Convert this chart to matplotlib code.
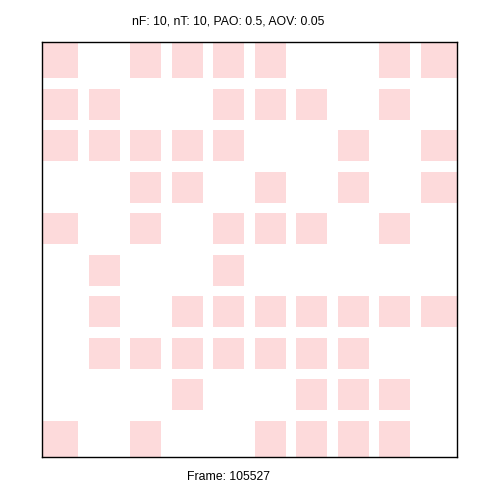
import matplotlib
matplotlib.use("Agg")
import matplotlib.pyplot as plt
from matplotlib.patches import Rectangle

# occupied cells, one list of column indices per row (row 0 = top)
n_rows = 10
n_cols = 10
occupied = [
    [0, 2, 3, 4, 5, 8, 9],
    [0, 1, 4, 5, 6, 8],
    [0, 1, 2, 3, 4, 7, 9],
    [2, 3, 5, 7, 9],
    [0, 2, 4, 5, 6, 8],
    [1, 4],
    [1, 3, 4, 5, 6, 7, 8, 9],
    [1, 2, 3, 4, 5, 6, 7],
    [3, 6, 7, 8],
    [0, 2, 5, 6, 7, 8],
]
title_txt = "nF: 10, nT: 10, PAO: 0.5, AOV: 0.05"
frame_txt = "Frame: 105527"

cell_color = "#fddadb"
margin = 0.13

def span(i, n):
    # edge cells run up to the frame
    lo = 0 if i == 0 else i + margin
    hi = n if i == n - 1 else i + 1 - margin
    return lo, hi

fig = plt.figure(figsize=(5, 5), dpi=100)
ax = fig.add_axes([0.084, 0.086, 0.83, 0.83])

for r, cols in enumerate(occupied):
    y0, y1 = span(r, n_rows)
    for c in cols:
        x0, x1 = span(c, n_cols)
        ax.add_patch(Rectangle((x0, y0), x1 - x0, y1 - y0,
                               facecolor=cell_color, edgecolor="none"))

ax.set_xlim(0, n_cols)
ax.set_ylim(n_rows, 0)
ax.set_xticks([])
ax.set_yticks([])
for s in ax.spines.values():
    s.set_linewidth(1.0)
    s.set_color("black")

fig.text(0.457, 0.956, title_txt, ha="center", va="center",
         fontsize=8.8, family="Liberation Sans")
fig.text(0.457, 0.046, frame_txt, ha="center", va="center",
         fontsize=8.8, family="Liberation Sans")

fig.savefig("out.png", dpi=100)
